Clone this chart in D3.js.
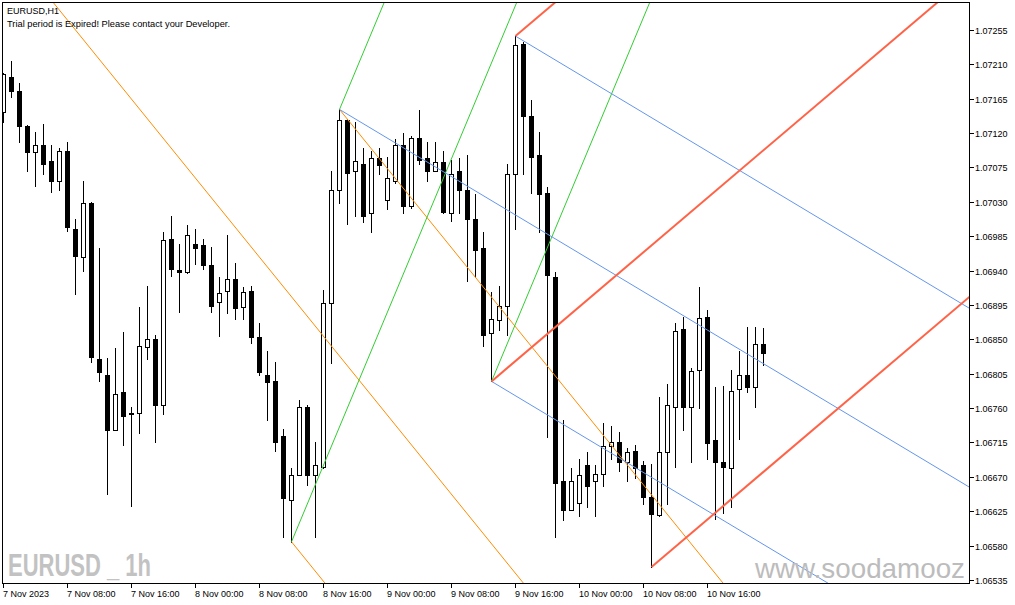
<!DOCTYPE html>
<html><head><meta charset="utf-8">
<script src="https://cdn.jsdelivr.net/npm/d3@7"></script>
<style>body{margin:0;background:#fff}svg{display:block}</style>
</head><body><svg id="c" width="1015" height="605"></svg>
<script>
// ---- data (EURUSD H1, 7 Nov 2023 00:00 .. 10 Nov 2023 23:00), prices ----
const opens  = [1.07147,1.07193,1.07175,1.07129,1.07095,1.07105,1.07084,1.07057,1.07097,1.06995,1.06958,1.07029,1.06824,1.06803,1.06732,1.06781,1.06753,1.06753,1.06840,1.06850,1.06764,1.06982,1.06941,1.06938,1.06975,1.06974,1.06948,1.06899,1.06913,1.06929,1.06892,1.06913,1.06853,1.06803,1.06795,1.06724,1.06640,1.06673,1.06762,1.06673,1.06683,1.06898,1.07045,1.07137,1.07071,1.07080,1.07015,1.07088,1.07032,1.07057,1.07105,1.07024,1.07113,1.07088,1.07071,1.07082,1.07016,1.07071,1.07046,1.07008,1.06970,1.06858,1.06875,1.06894,1.07066,1.07237,1.07142,1.07092,1.07041,1.06932,1.06665,1.06627,1.06636,1.06686,1.06664,1.06674,1.06710,1.06715,1.06690,1.06704,1.06685,1.06644,1.06620,1.06702,1.06762,1.06863,1.06761,1.06810,1.06879,1.06718,1.06690,1.06682,1.06785,1.06804,1.06787,1.06844];
const highs  = [1.07199,1.07214,1.07185,1.07130,1.07121,1.07132,1.07105,1.07100,1.07109,1.07007,1.07057,1.07030,1.06969,1.06825,1.06839,1.06860,1.06762,1.06892,1.06920,1.06856,1.06990,1.07011,1.06975,1.07000,1.06995,1.06982,1.06971,1.06932,1.06986,1.06950,1.06919,1.06920,1.06871,1.06835,1.06820,1.06733,1.06681,1.06770,1.06764,1.06716,1.06915,1.07070,1.07151,1.07139,1.07134,1.07100,1.07097,1.07100,1.07089,1.07112,1.07120,1.07116,1.07150,1.07108,1.07109,1.07097,1.07085,1.07087,1.07091,1.07040,1.06990,1.06912,1.06920,1.07079,1.07247,1.07239,1.07163,1.07121,1.07049,1.06938,1.06745,1.06681,1.06693,1.06703,1.06685,1.06741,1.06736,1.06729,1.06708,1.06712,1.06691,1.06687,1.06774,1.06791,1.06871,1.06879,1.06812,1.06919,1.06888,1.06787,1.06789,1.06810,1.06835,1.06866,1.06866,1.06865];
const lows   = [1.07134,1.07167,1.07108,1.07070,1.07051,1.07067,1.07043,1.07045,1.06992,1.06909,1.06940,1.06821,1.06795,1.06647,1.06731,1.06712,1.06632,1.06728,1.06824,1.06715,1.06752,1.06933,1.06886,1.06937,1.06949,1.06942,1.06886,1.06854,1.06884,1.06877,1.06877,1.06845,1.06804,1.06745,1.06704,1.06591,1.06585,1.06672,1.06660,1.06591,1.06681,1.06819,1.07029,1.07001,1.07012,1.07003,1.06991,1.07066,1.07021,1.07055,1.07016,1.07022,1.07080,1.07057,1.07070,1.07015,1.07005,1.07015,1.06927,1.06932,1.06841,1.06795,1.06862,1.06856,1.06995,1.07067,1.07042,1.06991,1.06722,1.06591,1.06614,1.06626,1.06619,1.06631,1.06619,1.06658,1.06693,1.06678,1.06664,1.06669,1.06635,1.06552,1.06619,1.06634,1.06683,1.06731,1.06690,1.06760,1.06693,1.06615,1.06623,1.06631,1.06719,1.06781,1.06761,1.06816];
const closes = [1.07197,1.07175,1.07129,1.07095,1.07105,1.07080,1.07057,1.07097,1.06997,1.06959,1.07029,1.06827,1.06807,1.06731,1.06779,1.06750,1.06752,1.06841,1.06850,1.06764,1.06980,1.06942,1.06938,1.06987,1.06969,1.06948,1.06894,1.06911,1.06929,1.06891,1.06912,1.06853,1.06807,1.06794,1.06715,1.06643,1.06673,1.06762,1.06673,1.06685,1.06898,1.07045,1.07137,1.07068,1.07084,1.07012,1.07088,1.07078,1.07061,1.07104,1.07025,1.07113,1.07085,1.07071,1.07082,1.07017,1.07067,1.07045,1.07007,1.06967,1.06856,1.06877,1.06894,1.07066,1.07235,1.07142,1.07089,1.07040,1.06934,1.06662,1.06627,1.06665,1.06673,1.06658,1.06674,1.06711,1.06715,1.06689,1.06703,1.06682,1.06644,1.06622,1.06702,1.06764,1.06861,1.06761,1.06808,1.06878,1.06714,1.06689,1.06683,1.06783,1.06804,1.06787,1.06844,1.06832];

const yTicks = [1.07255,1.07210,1.07165,1.07120,1.07075,1.07030,1.06985,1.06940,1.06895,1.06850,1.06805,1.06760,1.06715,1.06670,1.06625,1.06580,1.06535];
const xTickBars   = [0,8,16,24,32,40,48,56,64,72,80,88];
const xTickLabels = ["7 Nov 2023","7 Nov 08:00","7 Nov 16:00","8 Nov 00:00","8 Nov 08:00","8 Nov 16:00","9 Nov 00:00","9 Nov 08:00","9 Nov 16:00","10 Nov 00:00","10 Nov 08:00","10 Nov 16:00"];

// pivots (bar index, which extreme)
const pivotBars  = [36, 42, 61, 64, 81];
const pivotKinds = ["low","high","low","high","low"];
// line groups: which pivots emit lines, slope in price per bar
const orangeFrom = [36, 42];
const greenFrom  = [36, 42, 61];
const blueFrom   = [42, 61, 64];
const redFrom    = [61, 64, 81];
const orangeSlope = -0.00012934;
const greenSlope  =  0.0002508;
const blueSlope   = -0.0000628;
const redSlope    =  0.0000890;
const longOrange  = [54, 1.06673];   // anchor bar/price of the long orange line

// ---- layout ----
const svg = d3.select("#c");
const L=2, R=969, T=2, B=583;
const x = d3.scaleLinear().domain([0,95]).range([3,763]);
const y = d3.scaleLinear().domain([1.07255,1.06535]).range([30,580]);

svg.append("defs").append("clipPath").attr("id","plot")
  .append("rect").attr("x",L).attr("y",T).attr("width",R-L).attr("height",B-T);

const plot = svg.append("g").attr("clip-path","url(#plot)");

// watermarks
svg.append("text").attr("x",8).attr("y",576)
  .attr("font-family","Liberation Sans, Arial, sans-serif").attr("font-weight","bold")
  .attr("font-size",32).attr("fill","#c2c2c2")
  .attr("textLength",143).attr("lengthAdjust","spacingAndGlyphs")
  .text("EURUSD _ 1h");
svg.append("text").attr("x",755).attr("y",578)
  .attr("font-family","Liberation Sans, Arial, sans-serif")
  .attr("font-size",28).attr("fill","#bcbcbc")
  .attr("textLength",210).attr("lengthAdjust","spacingAndGlyphs")
  .text("www.soodamooz");

// candles
const idx = d3.range(opens.length);
const cg = plot.append("g").attr("shape-rendering","crispEdges");
idx.forEach(i=>{
  const cx = Math.round(x(i));
  const o=opens[i], c=closes[i];
  const top = Math.round(y(Math.max(o,c))), bot = Math.round(y(Math.min(o,c)));
  const hi = Math.round(y(highs[i])), lo = Math.round(y(lows[i]));
  cg.append("line").attr("x1",cx+0.5).attr("x2",cx+0.5).attr("y1",hi).attr("y2",lo+1)
    .attr("stroke","#000").attr("stroke-width",1);
  if (c > o) {
    cg.append("rect").attr("x",cx-1.5).attr("y",top+0.5).attr("width",4).attr("height",Math.max(1,bot-top))
      .attr("fill","#fff").attr("stroke","#000").attr("stroke-width",1);
  } else {
    cg.append("rect").attr("x",cx-2).attr("y",top).attr("width",5).attr("height",Math.max(1,bot-top+1))
      .attr("fill","#000");
  }
});

// lines
const pivotPrice = b => { const k = pivotKinds[pivotBars.indexOf(b)]; return k==="high"?highs[b]:lows[b]; };
const lg = plot.append("g").attr("fill","none");
function ray(b0,p0,slope,color,w,bStart){
  const b1 = 140;
  const bs = (bStart===undefined)?b0:bStart;
  lg.append("line")
    .attr("x1",x(bs)+0.5).attr("y1",y(p0+slope*(bs-b0)))
    .attr("x2",x(b1)+0.5).attr("y2",y(p0+slope*(b1-b0)))
    .attr("stroke",color).attr("stroke-width",w);
}
ray(longOrange[0],longOrange[1],orangeSlope,"#ff8c00",1,-20);
orangeFrom.forEach(b=>ray(b,pivotPrice(b),orangeSlope,"#ff8c00",1));
greenFrom.forEach(b=>ray(b,pivotPrice(b),greenSlope,"#32cd32",1));
blueFrom.forEach(b=>ray(b,pivotPrice(b),blueSlope,"#6495ed",1));
redFrom.forEach(b=>ray(b,pivotPrice(b),redSlope,"#ff6347",2));

// frame
svg.append("rect").attr("x",L+0.5).attr("y",T+0.5).attr("width",R-L).attr("height",B-T)
  .attr("fill","none").attr("stroke","#000").attr("shape-rendering","crispEdges");

// right axis
const font = "Liberation Sans, Arial, sans-serif";
const ya = svg.append("g");
yTicks.forEach(t=>{
  const yy = Math.round(y(t));
  ya.append("line").attr("x1",R+1).attr("x2",R+5).attr("y1",yy+0.5).attr("y2",yy+0.5)
    .attr("stroke","#000").attr("shape-rendering","crispEdges");
  ya.append("text").attr("x",975).attr("y",yy+3.5).attr("font-family",font).attr("font-size",9)
    .attr("fill","#000").text(t.toFixed(5));
});
// bottom axis
const xa = svg.append("g");
xTickBars.forEach((b,k)=>{
  const xx = Math.round(x(b));
  xa.append("line").attr("x1",xx+0.5).attr("x2",xx+0.5).attr("y1",B+1).attr("y2",B+5)
    .attr("stroke","#000").attr("shape-rendering","crispEdges");
  xa.append("text").attr("x",xx).attr("y",597).attr("font-family",font).attr("font-size",9)
    .attr("fill","#000").text(xTickLabels[k]);
});

// header texts
svg.append("text").attr("x",7).attr("y",14).attr("font-family",font).attr("font-size",9)
  .attr("fill","#000").text("EURUSD,H1");
svg.append("text").attr("x",7).attr("y",27).attr("font-family",font).attr("font-size",9)
  .attr("fill","#000").attr("textLength",223).attr("lengthAdjust","spacingAndGlyphs")
  .text("Trial period is Expired! Please contact your Developer.");
</script></body></html>
